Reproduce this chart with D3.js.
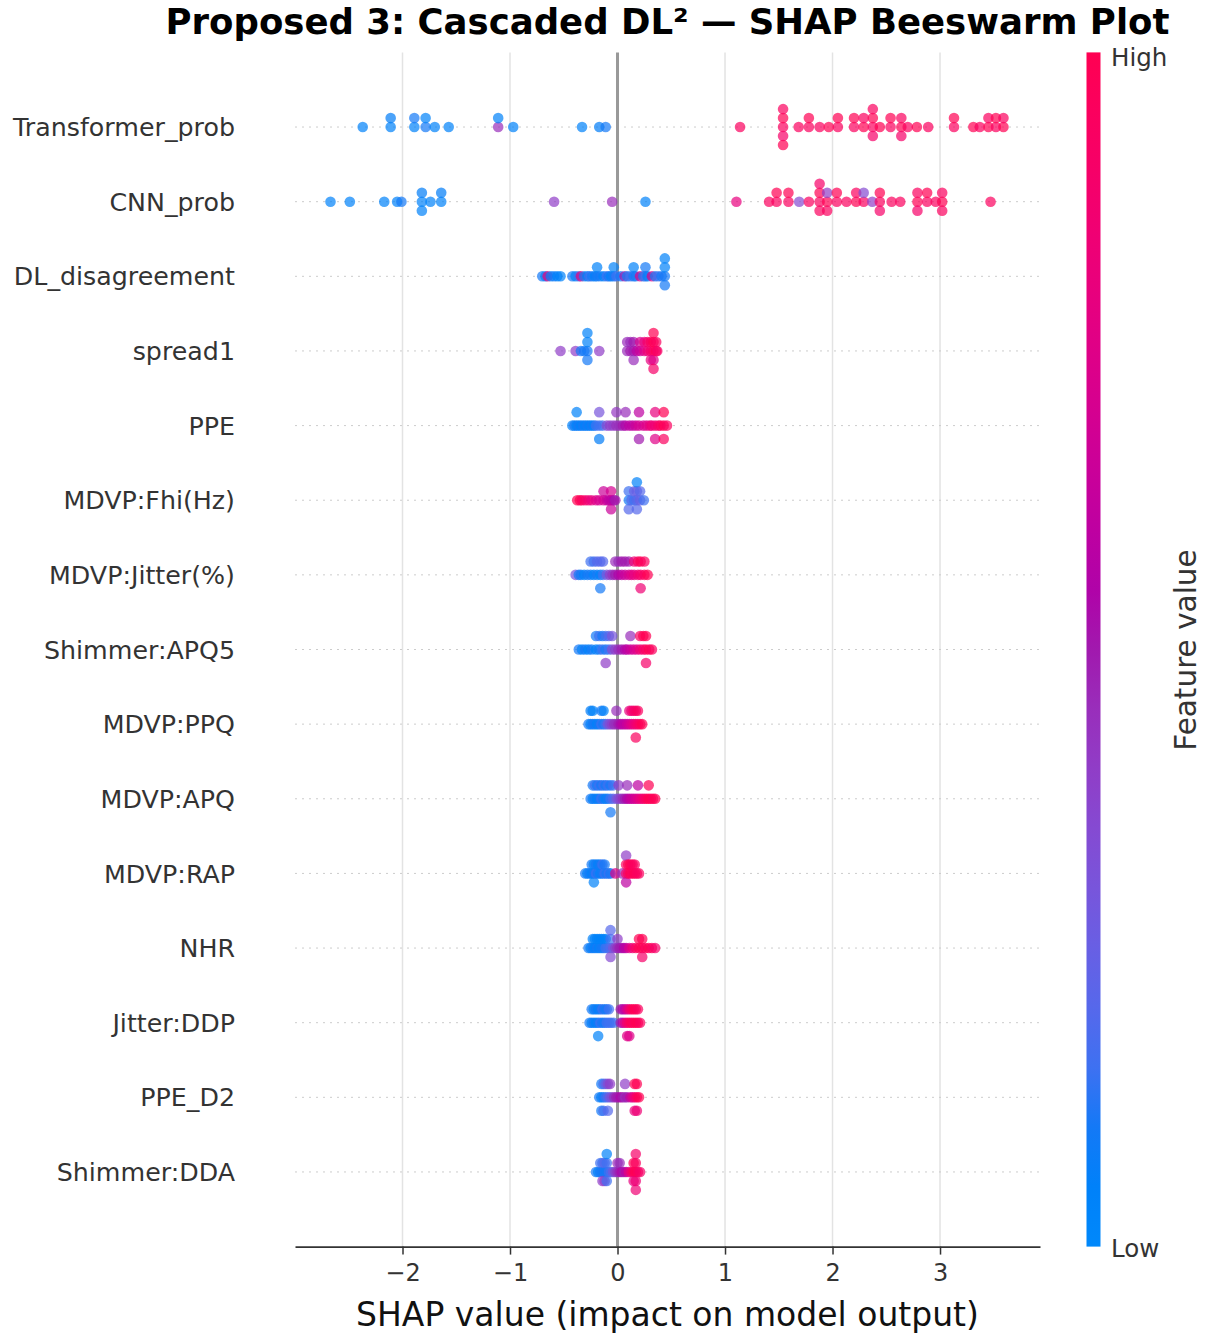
<!DOCTYPE html>
<html>
<head>
<meta charset="utf-8">
<script src="https://cdn.jsdelivr.net/npm/d3@7"></script>
<style>
  body { margin: 0; background: #fff; }
  svg { font-family: "DejaVu Sans", sans-serif; }
</style>
</head>
<body>
<svg id="chart" width="1206" height="1344"></svg>
<script>
// feature names, top to bottom
const features = ["Transformer_prob", "CNN_prob", "DL_disagreement", "spread1", "PPE",
  "MDVP:Fhi(Hz)", "MDVP:Jitter(%)", "Shimmer:APQ5", "MDVP:PPQ", "MDVP:APQ",
  "MDVP:RAP", "NHR", "Jitter:DDP", "PPE_D2", "Shimmer:DDA"];

// [shap value, normalised feature value]
const shapTransformer = [[-2.37,.05],[-2.11,.05],[-2.11,.08],[-1.89,.05],[-1.89,.1],[-1.785,.1],[-1.785,.05],
  [-1.70,.05],[-1.57,.05],[-1.11,.45],[-1.11,.05],[-0.97,.05],[-0.33,.05],[-0.17,.08],[-0.11,.1],
  [1.14,.95],[1.54,.95],[1.54,1],[1.54,.9],[1.54,.95],[1.54,1],[1.685,.95],[1.78,.95],[1.78,1],[1.88,.95],
  [1.965,1],[2.05,.95],[2.05,1],[2.20,.95],[2.20,1],[2.29,1],[2.29,.95],[2.375,.95],[2.375,1],[2.375,.9],
  [2.375,.95],[2.44,1],[2.54,.95],[2.54,1],[2.64,1],[2.64,.95],[2.64,.9],[2.70,.95],[2.785,1],[2.89,.95],
  [3.13,.95],[3.13,1],[3.31,1],[3.37,.95],[3.45,1],[3.45,.95],[3.52,.95],[3.52,1],[3.59,1],[3.59,.95]];
const shapCNN = [[-2.67,.05],[-2.49,.05],[-2.17,.05],[-2.05,.05],[-2.01,.1],[-1.82,.05],[-1.82,.08],[-1.82,.05],
  [-1.74,.05],[-1.64,.05],[-1.64,.08],[-0.59,.4],[-0.05,.45],[0.26,.05],
  [1.106,.8],[1.41,.95],[1.48,.95],[1.48,1],[1.59,.95],[1.59,1],[1.69,.35],[1.78,.95],
  [1.88,.95],[1.88,1],[1.88,.95],[1.88,.9],[1.95,1],[1.95,.4],[1.95,.95],[2.04,.95],[2.04,1],[2.13,.95],
  [2.22,1],[2.22,.95],[2.29,.95],[2.29,.35],[2.37,.4],[2.44,.95],[2.44,1],[2.44,.9],[2.55,.95],[2.63,.95],
  [2.79,1],[2.79,.95],[2.79,.9],[2.88,.95],[2.88,1],[2.96,.95],[3.02,1],[3.02,.95],[3.02,.95],[3.47,.95]];
const shapDisagree = [[-0.70,.1],[-0.67,.05],[-0.65,.8],[-0.62,.05],[-0.59,.1],[-0.56,.05],[-0.53,.05],
  [-0.42,.1],[-0.39,.05],[-0.36,.15],[-0.34,.8],[-0.31,.1],[-0.28,.05],[-0.26,.15],[-0.235,.1],[-0.21,.05],
  [-0.19,.1],[-0.19,.05],[-0.16,.1],[-0.13,.05],[-0.10,.15],[-0.08,.1],[-0.06,.05],[-0.035,.1],[-0.035,.05],
  [-0.01,.15],[0.03,.1],[0.065,.5],[0.09,.1],[0.12,.15],[0.15,.1],[0.15,.05],[0.17,.1],[0.21,.75],[0.24,.1],
  [0.26,.15],[0.26,.1],[0.28,.05],[0.32,.75],[0.35,.1],[0.38,.15],[0.41,.1],
  [0.44,.1],[0.44,.05],[0.44,.1],[0.44,.05]];
const shapSpread1 = [[-0.53,.4],[-0.39,.4],[-0.34,.1],[-0.31,.1],[-0.28,.1],[-0.28,.05],[-0.28,.1],[-0.28,.05],
  [-0.17,.4],[0.09,.45],[0.09,.45],[0.12,.5],[0.12,.45],[0.15,.5],[0.15,.5],[0.15,.45],[0.18,.6],
  [0.21,.65],[0.21,.7],[0.25,.75],[0.25,.8],[0.28,.85],[0.28,.9],[0.31,.9],[0.31,.95],[0.31,.8],
  [0.335,.95],[0.335,1],[0.335,.75],[0.335,1],[0.335,.9],[0.36,1],[0.36,.95],[0.37,.9]];
const shapPPE = [[-0.42,.05],[-0.40,.1],[-0.38,.05],[-0.38,.05],[-0.36,.1],[-0.34,.05],[-0.32,.1],[-0.30,.05],
  [-0.28,.1],[-0.26,.05],[-0.24,.1],[-0.22,.05],[-0.20,.15],[-0.17,.15],[-0.17,.3],[-0.17,.08],[-0.14,.15],
  [-0.10,.35],[-0.07,.4],[-0.04,.4],[-0.01,.45],[-0.01,.42],[0.02,.45],[0.05,.5],[0.075,.55],[0.075,.45],
  [0.11,.6],[0.14,.6],[0.17,.65],[0.20,.7],[0.20,.6],[0.20,.5],[0.24,.7],[0.27,.75],[0.30,.8],[0.32,.85],
  [0.35,.85],[0.35,.8],[0.35,.75],[0.38,.9],[0.40,.95],[0.43,1],[0.43,1],[0.43,.95],[0.46,.95]];
const shapFhi = [[-0.375,1],[-0.35,1],[-0.33,.95],[-0.30,.9],[-0.27,.85],[-0.24,.8],[-0.20,.75],[-0.17,.7],
  [-0.13,.7],[-0.13,.65],[-0.10,.65],[-0.08,.6],[-0.06,.6],[-0.06,.7],[-0.06,.65],[-0.035,.55],[-0.02,.5],
  [0.105,.1],[0.105,.15],[0.105,.2],[0.13,.2],[0.155,.15],[0.155,.25],[0.18,.2],[0.18,.25],[0.18,.2],[0.18,.05],
  [0.21,.25],[0.21,.2],[0.245,.15]];
const shapJitter = [[-0.39,.3],[-0.36,.1],[-0.34,.1],[-0.31,.05],[-0.28,.1],[-0.25,.1],[-0.25,.15],
  [-0.22,.05],[-0.22,.15],[-0.19,.1],[-0.19,.2],[-0.16,.05],[-0.16,.2],[-0.16,.1],[-0.135,.15],[-0.135,.2],
  [-0.10,.3],[-0.07,.4],[-0.045,.45],[-0.02,.5],[-0.02,.45],[0.01,.55],[0.01,.45],[0.04,.6],[0.04,.5],
  [0.07,.65],[0.07,.5],[0.105,.7],[0.105,.5],[0.13,.75],[0.155,.8],[0.155,.85],[0.19,.85],[0.19,.95],
  [0.215,.9],[0.215,1],[0.215,.85],[0.25,.95],[0.25,.95],[0.28,1]];
const shapAPQ5 = [[-0.36,.1],[-0.33,.05],[-0.30,.1],[-0.27,.05],[-0.24,.1],[-0.20,.05],[-0.20,.1],
  [-0.17,.1],[-0.17,.15],[-0.14,.15],[-0.14,.1],[-0.11,.1],[-0.11,.15],[-0.11,.4],[-0.08,.15],[-0.08,.2],
  [-0.05,.35],[-0.05,.3],[-0.02,.4],[0.01,.45],[0.04,.5],[0.07,.55],[0.09,.6],[0.12,.65],[0.12,.45],
  [0.15,.7],[0.18,.75],[0.21,.85],[0.21,.95],[0.24,.9],[0.24,1],[0.265,.95],[0.265,1],[0.265,.9],
  [0.295,1],[0.32,.95]];
const shapPPQ = [[-0.27,.1],[-0.25,.05],[-0.25,.08],[-0.23,.1],[-0.23,.05],[-0.21,.1],[-0.19,.05],[-0.17,.1],
  [-0.15,.15],[-0.15,.1],[-0.13,.1],[-0.13,.05],[-0.11,.15],[-0.09,.3],[-0.07,.35],[-0.05,.4],[-0.03,.45],
  [-0.01,.45],[-0.01,.45],[0.01,.5],[0.03,.55],[0.05,.6],[0.07,.6],[0.09,.65],[0.11,.7],[0.11,.8],
  [0.13,.75],[0.13,.85],[0.15,.8],[0.15,.9],[0.17,.85],[0.17,.9],[0.17,.95],[0.19,.9],[0.19,.95],
  [0.21,.95],[0.23,1]];
const shapAPQ = [[-0.25,.1],[-0.23,.05],[-0.23,.1],[-0.21,.1],[-0.21,.15],[-0.19,.05],[-0.19,.1],
  [-0.17,.1],[-0.17,.15],[-0.15,.15],[-0.15,.1],[-0.13,.1],[-0.13,.15],[-0.11,.05],[-0.11,.1],
  [-0.09,.1],[-0.09,.15],[-0.065,.15],[-0.065,.1],[-0.065,.1],[-0.04,.2],[-0.04,.15],[-0.01,.3],
  [0.01,.35],[0.01,.4],[0.03,.4],[0.05,.45],[0.07,.5],[0.09,.55],[0.09,.45],[0.11,.6],[0.13,.65],
  [0.15,.65],[0.17,.7],[0.19,.75],[0.19,.6],[0.21,.8],[0.23,.85],[0.25,.9],[0.27,.95],[0.29,1],[0.29,1],
  [0.31,1],[0.33,.95],[0.35,1]];
const shapRAP = [[-0.30,.1],[-0.28,.05],[-0.26,.1],[-0.24,.05],[-0.24,.1],[-0.22,.1],[-0.22,.05],[-0.22,.05],
  [-0.20,.15],[-0.20,.1],[-0.18,.1],[-0.18,.05],[-0.16,.05],[-0.16,.1],[-0.14,.1],[-0.14,.15],
  [-0.12,.15],[-0.12,.1],[-0.10,.1],[-0.08,.15],[-0.065,.1],[-0.02,.75],[0.045,.45],
  [0.08,.9],[0.08,.95],[0.08,.6],[0.08,.4],[0.10,.95],[0.10,1],[0.12,1],[0.12,1],[0.14,.95],[0.14,.95],
  [0.16,1],[0.16,.95],[0.18,.95],[0.20,.95]];
const shapNHR = [[-0.27,.1],[-0.25,.05],[-0.23,.1],[-0.23,.05],[-0.21,.05],[-0.21,.05],[-0.19,.1],[-0.19,.05],
  [-0.17,.05],[-0.17,.05],[-0.15,.1],[-0.15,.05],[-0.13,.1],[-0.13,.05],[-0.11,.15],[-0.11,.05],[-0.09,.15],
  [-0.065,.2],[-0.065,.15],[-0.065,.35],[-0.065,.2],[-0.04,.3],[-0.02,.4],[0.0,.45],[0.0,.4],
  [0.02,.5],[0.04,.5],[0.06,.55],[0.08,.6],[0.11,.75],[0.14,.85],[0.17,.95],[0.20,1],[0.20,1],
  [0.23,1],[0.23,1],[0.23,.9],[0.26,.95],[0.29,1],[0.32,.95],[0.35,.9]];
const shapDDP = [[-0.26,.1],[-0.24,.05],[-0.24,.1],[-0.22,.1],[-0.22,.05],[-0.20,.05],[-0.20,.1],
  [-0.18,.1],[-0.18,.05],[-0.18,.05],[-0.16,.15],[-0.16,.1],[-0.14,.1],[-0.14,.15],[-0.12,.1],[-0.12,.1],
  [-0.10,.15],[-0.10,.1],[-0.08,.15],[-0.08,.15],[-0.06,.15],[-0.035,.15],[0.03,.5],[0.03,.5],
  [0.05,.55],[0.05,.55],[0.07,.8],[0.07,.6],[0.09,.9],[0.09,.75],[0.09,.75],[0.11,.95],[0.11,.85],[0.11,.75],
  [0.13,1],[0.13,.95],[0.15,.95],[0.15,1],[0.17,1],[0.17,1],[0.19,1],[0.19,.95],[0.21,.95]];
const shapPPED2 = [[-0.17,.1],[-0.15,.05],[-0.15,.1],[-0.15,.1],[-0.13,.1],[-0.13,.15],[-0.13,.15],
  [-0.11,.15],[-0.11,.25],[-0.09,.2],[-0.09,.35],[-0.09,.2],[-0.07,.3],[-0.07,.4],[-0.05,.35],[-0.03,.45],
  [-0.01,.5],[0.01,.5],[0.03,.55],[0.05,.5],[0.07,.45],[0.07,.4],[0.09,.5],[0.12,.65],[0.14,.75],
  [0.16,.85],[0.16,1],[0.16,.8],[0.18,.95],[0.18,1],[0.18,.85],[0.20,1]];
const shapDDA = [[-0.20,.1],[-0.18,.05],[-0.16,.1],[-0.16,.15],[-0.14,.1],[-0.14,.15],[-0.14,.4],
  [-0.12,.1],[-0.12,.2],[-0.12,.4],[-0.10,.1],[-0.10,.15],[-0.10,.15],[-0.10,.05],[-0.08,.15],[-0.06,.2],
  [-0.04,.3],[-0.02,.4],[0.0,.45],[0.0,.45],[0.02,.5],[0.02,.45],[0.04,.55],[0.06,.5],[0.08,.6],
  [0.105,.8],[0.13,.9],[0.15,1],[0.15,1],[0.15,.8],[0.17,1],[0.17,.95],[0.17,.85],[0.17,.9],[0.17,.85],
  [0.19,.95],[0.21,.9]];

const rows = [shapTransformer, shapCNN, shapDisagree, shapSpread1, shapPPE, shapFhi, shapJitter,
  shapAPQ5, shapPPQ, shapAPQ, shapRAP, shapNHR, shapDDP, shapPPED2, shapDDA];

const xTicks = [-2, -1, 0, 1, 2, 3];

const svg = d3.select("#chart");
const plotLeft = 295, plotRight = 1040, plotTop = 52.4, plotBottom = 1246.6;
const n = features.length;

const x = d3.scaleLinear().domain([-3.0, 3.93]).range([plotLeft, plotRight]);
const y = d3.scaleLinear().domain([-1, n]).range([plotBottom, plotTop]);

// shap red_blue colormap (LCh path)
function shapColor(t) {
    var l = t < 0.5 ? 54 + (40 - 54) * (t / 0.5) : 40 + (54 - 40) * ((t - 0.5) / 0.5);
    var c = 70 + 20 * t;
    var h = 266.93 + (380.32 - 266.93) * t;
    return d3.hcl(h % 360, c, l).formatRgb();
}

// beeswarm offsets the same way shap does it
function swarm(pts) {
    var vals = pts.map(function(p){ return p[0]; });
    var lo = d3.min(vals), hi = d3.max(vals);
    var nbins = 100;
    var quant = vals.map(function(v){ return Math.round(nbins * (v - lo) / (hi - lo + 1e-8)); });
    var order = d3.range(pts.length).sort(function(a, b){ return quant[a] - quant[b] || a - b; });
    var ys = new Array(pts.length).fill(0);
    var layer = 0, last = -1;
    order.forEach(function(i){
        if (quant[i] !== last) layer = 0;
        ys[i] = Math.ceil(layer / 2) * ((layer % 2) * 2 - 1);
        layer += 1;
        last = quant[i];
    });
    var m = d3.max(ys, function(d){ return d + 1; });
    return ys.map(function(v){ return v * 0.9 * (0.4 / m); });
}

// vertical grid
svg.append("g").selectAll("line")
    .data(xTicks.filter(function(d){ return d !== 0; }))
    .enter().append("line")
    .attr("x1", function(d){ return x(d); }).attr("x2", function(d){ return x(d); })
    .attr("y1", plotTop).attr("y2", plotBottom)
    .attr("stroke", "#e3e3e3").attr("stroke-width", 1.5);

// row guide lines
svg.append("g").selectAll("line")
    .data(features)
    .enter().append("line")
    .attr("x1", plotLeft).attr("x2", plotRight)
    .attr("y1", function(d, i){ return y(n - 1 - i); })
    .attr("y2", function(d, i){ return y(n - 1 - i); })
    .attr("stroke", "#cccccc").attr("stroke-width", 1)
    .attr("stroke-dasharray", "2,5");

// zero line
svg.append("line")
    .attr("x1", x(0)).attr("x2", x(0))
    .attr("y1", plotTop).attr("y2", plotBottom)
    .attr("stroke", "#999999").attr("stroke-width", 3);

// points
rows.forEach(function(pts, i){
    var off = swarm(pts);
    var pos = n - 1 - i;
    svg.append("g").selectAll("circle")
        .data(pts)
        .enter().append("circle")
        .attr("cx", function(d){ return x(d[0]); })
        .attr("cy", function(d, j){ return y(pos + off[j]); })
        .attr("r", 5.3)
        .attr("fill", function(d){ return shapColor(d[1]); })
        .attr("fill-opacity", 0.7);
});

// feature labels
svg.append("g").selectAll("text")
    .data(features)
    .enter().append("text")
    .attr("x", 235)
    .attr("y", function(d, i){ return y(n - 1 - i); })
    .attr("dy", "0.36em")
    .attr("text-anchor", "end")
    .attr("font-size", "25.3px")
    .attr("fill", "#333333")
    .text(function(d){ return d; });

// x axis
var xAxis = svg.append("g")
    .attr("transform", "translate(0," + plotBottom + ")")
    .call(d3.axisBottom(x).tickValues(xTicks).tickFormat(d3.format("d"))
        .tickSizeInner(8).tickSizeOuter(0).tickPadding(9));
xAxis.select(".domain").attr("stroke", "#333333").attr("stroke-width", 1.8);
xAxis.selectAll(".tick line").attr("stroke", "#333333").attr("stroke-width", 1.5);
xAxis.selectAll(".tick text")
    .attr("font-family", "DejaVu Sans, sans-serif")
    .attr("font-size", "24px")
    .attr("fill", "#333333");

svg.append("text")
    .attr("x", (plotLeft + plotRight) / 2)
    .attr("y", 1326)
    .attr("text-anchor", "middle")
    .attr("font-size", "33px")
    .attr("fill", "#111111")
    .text("SHAP value (impact on model output)");

// title
svg.append("text")
    .attr("x", 667.5)
    .attr("y", 34)
    .attr("text-anchor", "middle")
    .attr("font-size", "35.5px")
    .attr("font-weight", "bold")
    .attr("fill", "#000000")
    .text("Proposed 3: Cascaded DL\u00b2 \u2014 SHAP Beeswarm Plot");

// colour bar
var defs = svg.append("defs");
var grad = defs.append("linearGradient")
    .attr("id", "cbar")
    .attr("x1", 0).attr("y1", 1).attr("x2", 0).attr("y2", 0);
grad.selectAll("stop")
    .data(d3.range(0, 1.0001, 0.05))
    .enter().append("stop")
    .attr("offset", function(d){ return d; })
    .attr("stop-color", function(d){ return shapColor(d); });

svg.append("rect")
    .attr("x", 1086.5).attr("y", plotTop)
    .attr("width", 14).attr("height", plotBottom - plotTop)
    .attr("fill", "url(#cbar)");

svg.append("text")
    .attr("x", 1111).attr("y", 66)
    .attr("font-size", "24.5px").attr("fill", "#333333")
    .text("High");
svg.append("text")
    .attr("x", 1111).attr("y", 1257)
    .attr("font-size", "24.5px").attr("fill", "#333333")
    .text("Low");
svg.append("text")
    .attr("transform", "translate(1196,650) rotate(-90)")
    .attr("text-anchor", "middle")
    .attr("font-size", "29.5px").attr("fill", "#333333")
    .text("Feature value");
</script>
</body>
</html>
